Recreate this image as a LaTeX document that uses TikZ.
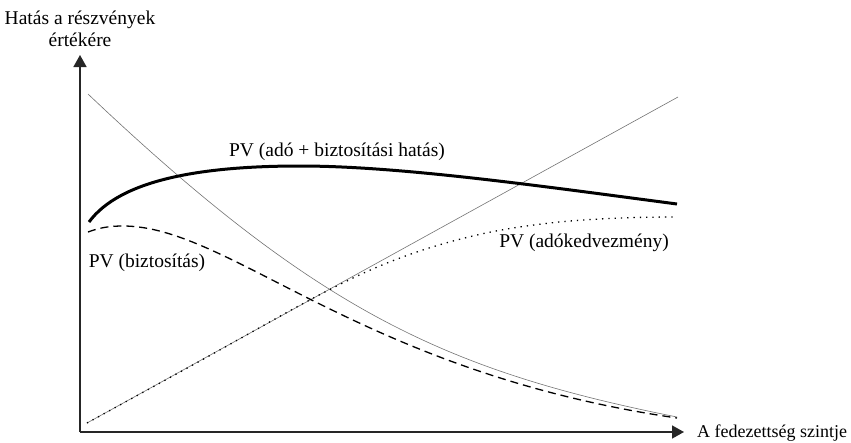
\documentclass[tikz,border=0pt]{standalone}
\usepackage{fontspec}
\setmainfont{Liberation Serif}
\usetikzlibrary{arrows.meta}
\begin{document}
\begin{tikzpicture}[x=1pt,y=-1pt,>={Triangle[length=12pt,width=13pt]},
  font=\fontsize{19.5}{22}\selectfont,
  thinline/.style={black!55,line width=0.6pt},
  axis/.style={line width=1.6pt,black!85}]
\useasboundingbox (0,0) rectangle (851,442);
\coordinate (O) at (80,432);
\coordinate (Y) at (80,55);
\coordinate (X) at (684,432);
\draw[axis,->] (O) -- (Y);
\draw[axis,->] (O) -- (X);
\node[align=center,inner sep=0pt] (ylabel) at (80,29) {Hatás a részvények\\értékére};
\node[anchor=west,inner sep=0pt,font=\fontsize{18}{21}\selectfont] (xlabel) at (697,433) {A fedezettség szintje};
% rising line
\coordinate (R1) at (87,423);
\coordinate (R2) at (678,97);
\draw[thinline] (R1) -- (R2);
% falling line
\coordinate (F1) at (88,94);
\coordinate (F2) at (677,417);
\draw[thinline] (F1) .. controls (318,312) and (447,371) .. (F2);
% dotted
\draw[line width=1.3pt,dash pattern=on 1.3pt off 5pt] plot[smooth,tension=0.6] coordinates {(87,423) (200,361) (323,293) (400,258) (477,235) (550,223) (620,218) (677,217)};
% dashed
\coordinate (D1) at (88,232);
\coordinate (D2) at (123,226);
\coordinate (D3) at (677,418);
\draw[line width=1.3pt,dash pattern=on 8pt off 5pt] (D1) .. controls (100,227.5) and (110,226) .. (D2)
  .. controls (230,226) and (360,372) .. (D3);
% thick
\coordinate (T1) at (89,222);
\coordinate (T2) at (300,166);
\coordinate (T3) at (677,204);
\draw[line width=3pt] (T1) .. controls (120,180) and (200,166) .. (T2)
  .. controls (400,166) and (540,186) .. (T3);
\node (pvsum) at (337,152) {PV (adó + biztosítási hatás)};
\node (pvins) at (147,263) {PV (biztosítás)};
\node (pvtax) at (584,243) {PV (adókedvezmény)};
\end{tikzpicture}
\end{document}
